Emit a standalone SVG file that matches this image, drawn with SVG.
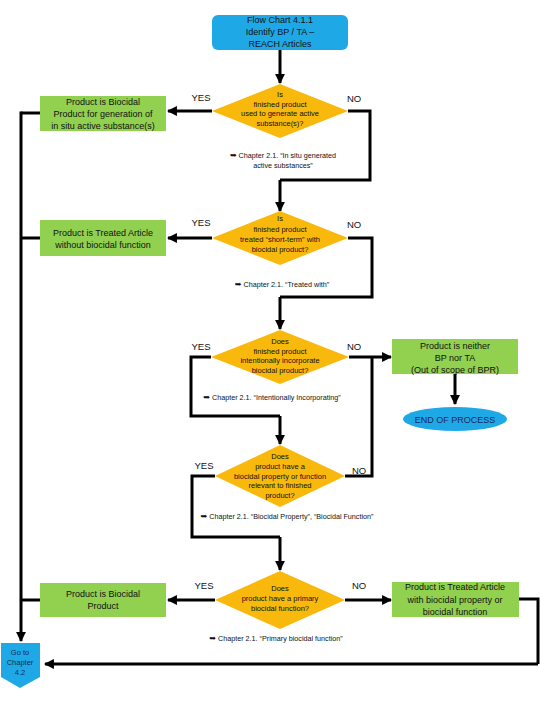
<svg xmlns="http://www.w3.org/2000/svg" width="540" height="720" viewBox="0 0 540 720">
<defs>
<marker id="ah" viewBox="0 0 10 10" refX="9" refY="5" markerWidth="3.3" markerHeight="3.3" orient="auto" markerUnits="strokeWidth">
<path d="M0,0 L10,5 L0,10 z" fill="#000"/>
</marker>
<style>
.ln{fill:none;stroke:#000;stroke-width:3;}
.arr{fill:none;stroke:#000;stroke-width:3;marker-end:url(#ah);}
.grn{fill:#92D050;}
.blu{fill:#1EA9E6;}
.dia{fill:#F9B80C;}
.t{font-family:"Liberation Sans",Arial,sans-serif;font-size:9px;fill:#111;text-anchor:middle;}
.d{font-family:"Liberation Sans",Arial,sans-serif;font-size:7.5px;fill:#111;text-anchor:middle;}
.lab{font-family:"Liberation Sans",Arial,sans-serif;font-size:9.5px;fill:#111;text-anchor:middle;}
.ch{font-family:"Liberation Sans","DejaVu Sans",Arial,sans-serif;font-size:7.2px;fill:#111;text-anchor:middle;}
.ic{font-family:"DejaVu Sans",sans-serif;font-size:8px;fill:#111;}
</style>
</defs>
<rect width="540" height="720" fill="#fff"/>

<g id="connectors">
<path class="arr" d="M280,50 L280,83"/>
<path class="arr" d="M212,111 L168,111"/>
<path class="ln" d="M348,111 L370,111 L370,180 L280,180"/>
<path class="arr" d="M280,180 L280,211"/>
<path class="arr" d="M212,238 L168,238"/>
<path class="ln" d="M348,238 L372,238 L372,297 L280,297"/>
<path class="arr" d="M280,297 L280,329"/>
<path class="ln" d="M211,357 L191,357 L191,416 L280,416"/>
<path class="arr" d="M280,416 L280,444"/>
<path class="arr" d="M349,357 L391,357"/>
<path class="ln" d="M345,476 L372,476 L372,357"/>
<path class="arr" d="M455,374 L455,404"/>
<path class="ln" d="M215,476 L192,476 L192,537 L280,537"/>
<path class="arr" d="M280,537 L280,570"/>
<path class="arr" d="M215,600 L168,600"/>
<path class="arr" d="M345,600 L391,600"/>
<path class="ln" d="M519,599 L538,599 L538,664"/>
<path class="arr" d="M538,664 L45,664"/>
<path class="ln" d="M40,113 L21,113"/>
<path class="ln" d="M40,238 L21,238"/>
<path class="ln" d="M40,600 L21,600"/>
<path class="arr" d="M21,111.5 L21,641"/>
<text class="lab" x="201" y="101">YES</text>
<text class="lab" x="354" y="102">NO</text>
<text class="lab" x="201" y="226">YES</text>
<text class="lab" x="354" y="228">NO</text>
<text class="lab" x="201" y="350">YES</text>
<text class="lab" x="354" y="350">NO</text>
<text class="lab" x="204" y="469">YES</text>
<text class="lab" x="359" y="474">NO</text>
<text class="lab" x="204" y="589">YES</text>
<text class="lab" x="359" y="589">NO</text>
<text class="ch" x="283" y="158"><tspan class="ic">➥</tspan> Chapter 2.1. “In situ generated</text>
<text class="ch" x="283" y="168">active substances”</text>
<text class="ch" x="282" y="287"><tspan class="ic">➥</tspan> Chapter 2.1. “Treated with”</text>
<text class="ch" x="272" y="400"><tspan class="ic">➥</tspan> Chapter 2.1. “Intentionally Incorporating”</text>
<text class="ch" x="287" y="519"><tspan class="ic">➥</tspan> Chapter 2.1. “Biocidal Property”, “Biocidal Function”</text>
<text class="ch" x="276" y="641"><tspan class="ic">➥</tspan> Chapter 2.1. “Primary biocidal function”</text>
</g>

<g id="start">
<rect class="blu" x="212" y="15" width="136" height="35" rx="6"/>
<text class="t" x="280" y="23">Flow Chart 4.1.1</text>
<text class="t" x="280" y="35">Identify BP / TA –</text>
<text class="t" x="280" y="47">REACH Articles</text>
</g>

<g id="d1">
<polygon class="dia" points="280,84 348,111 280,138 212,111"/>
<text class="d" x="280" y="97">Is</text>
<text class="d" x="280" y="107">finished product</text>
<text class="d" x="280" y="116">used to generate active</text>
<text class="d" x="280" y="126">substance(s)?</text>
</g>

<g id="d2">
<polygon class="dia" points="280,211 348,238 280,265 212,238"/>
<text class="d" x="280" y="221">Is</text>
<text class="d" x="280" y="232">finished product</text>
<text class="d" x="280" y="242">treated “short-term” with</text>
<text class="d" x="280" y="252">biocidal product?</text>
</g>

<g id="d3">
<polygon class="dia" points="280,330 349,357 280,384 211,357"/>
<text class="d" x="280" y="344">Does</text>
<text class="d" x="280" y="354">finished product</text>
<text class="d" x="280" y="363">intentionally incorporate</text>
<text class="d" x="280" y="373">biocidal product?</text>
</g>

<g id="d4">
<polygon class="dia" points="280,445 345,476 280,507 215,476"/>
<text class="d" x="280" y="459">Does</text>
<text class="d" x="280" y="469">product have a</text>
<text class="d" x="280" y="479">biocidal property or function</text>
<text class="d" x="280" y="488">relevant to finished</text>
<text class="d" x="280" y="498">product?</text>
</g>

<g id="d5">
<polygon class="dia" points="280,571 345,600 280,629 215,600"/>
<text class="d" x="280" y="591">Does</text>
<text class="d" x="280" y="601">product have a primary</text>
<text class="d" x="280" y="611">biocidal function?</text>
</g>

<g id="bp-insitu">
<rect class="grn" x="40" y="96" width="126" height="35"/>
<text class="t" x="103" y="105">Product is Biocidal</text>
<text class="t" x="103" y="117">Product for generation of</text>
<text class="t" x="103" y="129">in situ active substance(s)</text>
</g>

<g id="ta-nofunc">
<rect class="grn" x="40" y="220" width="126" height="36"/>
<text class="t" x="103" y="236">Product is Treated Article</text>
<text class="t" x="103" y="248">without biocidal function</text>
</g>

<g id="neither">
<rect class="grn" x="392" y="339" width="126" height="35"/>
<text class="t" x="455" y="349">Product is neither</text>
<text class="t" x="455" y="361">BP nor TA</text>
<text class="t" x="455" y="373">(Out of scope of BPR)</text>
</g>

<g id="end">
<ellipse class="blu" cx="455" cy="419" rx="52" ry="12"/>
<text class="t" x="455" y="423" style="fill:#1a2a5a">END OF PROCESS</text>
</g>

<g id="bp">
<rect class="grn" x="40" y="583" width="126" height="34"/>
<text class="t" x="103" y="597">Product is Biocidal</text>
<text class="t" x="103" y="609">Product</text>
</g>

<g id="ta-func">
<rect class="grn" x="392" y="582" width="127" height="35"/>
<text class="t" x="455" y="590">Product is Treated Article</text>
<text class="t" x="455" y="603">with biocidal property or</text>
<text class="t" x="455" y="615">biocidal function</text>
</g>

<g id="goto">
<polygon class="blu" points="1,643 40,643 40,677 20,688 1,677"/>
<text class="d" x="20" y="655" style="fill:#1a2a5a">Go to</text>
<text class="d" x="20" y="665" style="fill:#1a2a5a">Chapter</text>
<text class="d" x="20" y="675" style="fill:#1a2a5a">4.2</text>
</g>
</svg>
